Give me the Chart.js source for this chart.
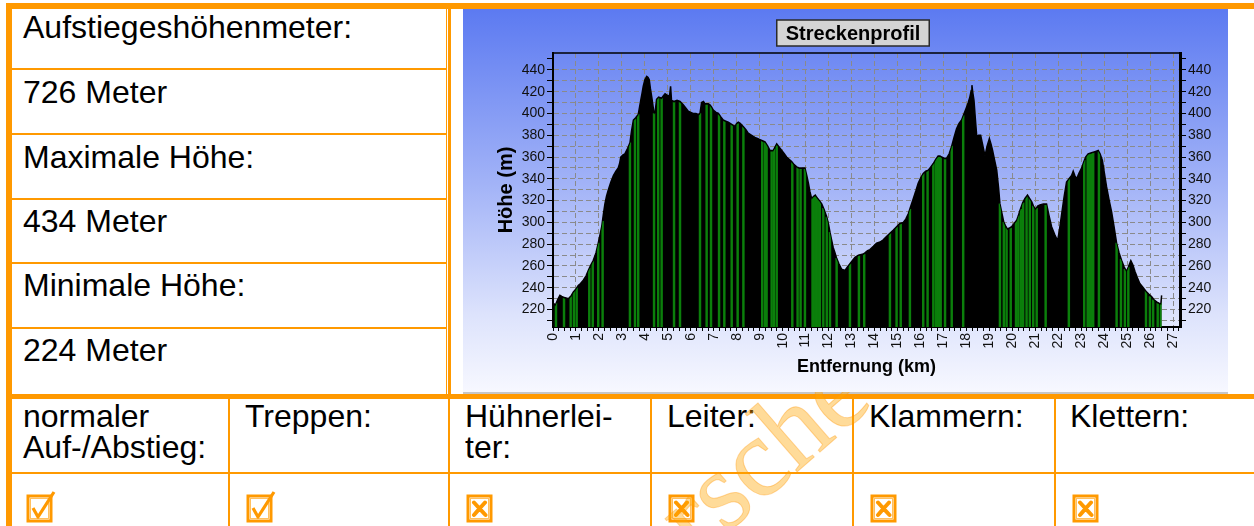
<!DOCTYPE html>
<html lang="de">
<head>
<meta charset="utf-8">
<script src="https://cdn.jsdelivr.net/npm/chart.js@4.4.1/dist/chart.umd.min.js"></script>
<style>
html,body{margin:0;padding:0;background:#fff;}
body{width:1254px;height:526px;overflow:hidden;position:relative;font-family:"Liberation Sans",Arial,sans-serif;}
.o{position:absolute;background:#ff9900;}
.t{position:absolute;font-size:32px;line-height:31px;color:#000;white-space:nowrap;}
svg.ic{position:absolute;}
#wm{position:absolute;left:0;top:0;z-index:1;}
#cw{position:absolute;left:463px;top:9px;width:765px;height:383px;z-index:2;}
</style>
</head>
<body>
<!-- table lines -->
<div class="o" style="left:6px;top:3px;width:1248px;height:6px"></div>
<div class="o" style="left:6px;top:3px;width:6px;height:523px"></div>
<div class="o" style="left:446px;top:9px;width:1px;height:385px"></div>
<div class="o" style="left:448px;top:3px;width:3px;height:391px"></div>
<div class="o" style="left:12px;top:68px;width:434px;height:2px"></div>
<div class="o" style="left:12px;top:133px;width:434px;height:2px"></div>
<div class="o" style="left:12px;top:198px;width:434px;height:2px"></div>
<div class="o" style="left:12px;top:262px;width:434px;height:2px"></div>
<div class="o" style="left:12px;top:327px;width:434px;height:2px"></div>
<div style="position:absolute;left:463px;top:392px;width:765px;height:2px;background:#c6c6c6"></div>
<div class="o" style="left:6px;top:394px;width:1248px;height:5px"></div>
<div class="o" style="left:228px;top:399px;width:2px;height:127px"></div>
<div class="o" style="left:448px;top:399px;width:2px;height:127px"></div>
<div class="o" style="left:650px;top:399px;width:2px;height:127px"></div>
<div class="o" style="left:852px;top:399px;width:2px;height:127px"></div>
<div class="o" style="left:1054px;top:399px;width:2px;height:127px"></div>
<div class="o" style="left:12px;top:472px;width:1242px;height:2px"></div>

<!-- left column texts -->
<div class="t" style="left:23px;top:12px">Aufstiegeshöhenmeter:</div>
<div class="t" style="left:23px;top:77px">726 Meter</div>
<div class="t" style="left:23px;top:142px">Maximale Höhe:</div>
<div class="t" style="left:23px;top:206px">434 Meter</div>
<div class="t" style="left:23px;top:270px">Minimale Höhe:</div>
<div class="t" style="left:23px;top:335px">224 Meter</div>

<!-- bottom rows -->
<div class="t" style="left:23px;top:401px">normaler<br>Auf-/Abstieg:</div>
<div class="t" style="left:245px;top:401px">Treppen:</div>
<div class="t" style="left:465px;top:401px">Hühnerlei-<br>ter:</div>
<div class="t" style="left:667px;top:401px">Leiter:</div>
<div class="t" style="left:869px;top:401px">Klammern:</div>
<div class="t" style="left:1070px;top:401px">Klettern:</div>

<svg class="ic" style="left:25px;top:490px" width="32" height="34" viewBox="0 0 32 34"><rect x="3" y="6" width="23" height="25" fill="none" stroke="#ff9900" stroke-width="3"/><rect x="5.5" y="8.5" width="18" height="20" fill="none" stroke="#ffc060" stroke-width="1"/><path d="M8 18 L13 27 L29 2" fill="none" stroke="#ff9900" stroke-width="3.2" stroke-linejoin="round"/></svg>
<svg class="ic" style="left:245px;top:490px" width="32" height="34" viewBox="0 0 32 34"><rect x="3" y="6" width="23" height="25" fill="none" stroke="#ff9900" stroke-width="3"/><rect x="5.5" y="8.5" width="18" height="20" fill="none" stroke="#ffc060" stroke-width="1"/><path d="M8 18 L13 27 L29 2" fill="none" stroke="#ff9900" stroke-width="3.2" stroke-linejoin="round"/></svg>
<svg class="ic" style="left:465px;top:490px" width="32" height="34" viewBox="0 0 32 34"><rect x="3" y="6" width="23" height="25" fill="none" stroke="#ff9900" stroke-width="3"/><rect x="5.5" y="8.5" width="18" height="20" fill="none" stroke="#ffc060" stroke-width="1"/><path d="M9 12.5 Q14 18 20.5 25 M20 12.5 Q15 18 9 25" fill="none" stroke="#ff9900" stroke-width="4" stroke-linecap="round"/></svg>
<svg class="ic" style="left:667px;top:490px" width="32" height="34" viewBox="0 0 32 34"><rect x="3" y="6" width="23" height="25" fill="none" stroke="#ff9900" stroke-width="3"/><rect x="5.5" y="8.5" width="18" height="20" fill="none" stroke="#ffc060" stroke-width="1"/><path d="M9 12.5 Q14 18 20.5 25 M20 12.5 Q15 18 9 25" fill="none" stroke="#ff9900" stroke-width="4" stroke-linecap="round"/></svg>
<svg class="ic" style="left:869px;top:490px" width="32" height="34" viewBox="0 0 32 34"><rect x="3" y="6" width="23" height="25" fill="none" stroke="#ff9900" stroke-width="3"/><rect x="5.5" y="8.5" width="18" height="20" fill="none" stroke="#ffc060" stroke-width="1"/><path d="M9 12.5 Q14 18 20.5 25 M20 12.5 Q15 18 9 25" fill="none" stroke="#ff9900" stroke-width="4" stroke-linecap="round"/></svg>
<svg class="ic" style="left:1071px;top:490px" width="32" height="34" viewBox="0 0 32 34"><rect x="3" y="6" width="23" height="25" fill="none" stroke="#ff9900" stroke-width="3"/><rect x="5.5" y="8.5" width="18" height="20" fill="none" stroke="#ffc060" stroke-width="1"/><path d="M9 12.5 Q14 18 20.5 25 M20 12.5 Q15 18 9 25" fill="none" stroke="#ff9900" stroke-width="4" stroke-linecap="round"/></svg>

<!-- watermark -->
<svg id="wm" width="1254" height="526" viewBox="0 0 1254 526">
<text x="697" y="559" transform="rotate(-41 697 559)" font-family="Liberation Serif, serif" font-size="112" fill="rgba(255,165,0,0.40)" stroke="rgba(255,150,0,0.35)" stroke-width="1">rsche</text>
</svg>

<div id="cw"><canvas id="c" width="765" height="383"></canvas></div>

<script>
// ---------- data ----------
const chartTitle = 'Streckenprofil';
const xTitle = 'Entfernung (km)';
const yTitle = 'Höhe (m)';

const profileKm = [
  0,0.04,0.10,0.20,0.30,0.38,0.50,0.67,0.80,0.88,
  1.00,1.10,1.20,1.32,1.44,1.54,1.65,1.75,1.87,1.97,
  2.05,2.12,2.19,2.26,2.33,2.41,2.52,2.63,2.74,2.84,
  2.90,2.95,3.05,3.13,3.25,3.35,3.42,3.50,3.60,3.71,
  3.77,3.82,3.88,3.93,4.00,4.08,4.14,4.19,4.24,4.30,
  4.36,4.40,4.45,4.51,4.60,4.73,4.80,4.88,4.95,5.02,
  5.08,5.12,5.16,5.27,5.40,5.53,5.67,5.78,5.89,6.00,
  6.10,6.22,6.33,6.40,6.47,6.55,6.62,6.76,6.83,6.90,
  6.98,7.10,7.20,7.30,7.41,7.52,7.63,7.78,7.92,8.00,
  8.07,8.15,8.28,8.40,8.50,8.65,8.79,8.90,9.01,9.12,
  9.23,9.35,9.45,9.59,9.66,9.74,9.85,9.96,10.07,10.17,
  10.28,10.39,10.50,10.61,10.72,10.83,10.97,11.05,11.12,11.19,
  11.26,11.35,11.42,11.48,11.60,11.70,11.80,11.92,12.00,12.06,
  12.13,12.20,12.28,12.35,12.45,12.57,12.71,12.82,12.93,13.04,
  13.15,13.30,13.51,13.58,13.70,13.80,13.95,14.09,14.24,14.38,
  14.52,14.67,14.82,14.96,15.10,15.25,15.36,15.47,15.58,15.69,
  15.80,15.90,16.01,16.12,16.23,16.34,16.45,16.56,16.67,16.77,
  16.85,16.92,17.03,17.14,17.25,17.36,17.46,17.57,17.68,17.79,
  17.90,18.01,18.08,18.15,18.21,18.24,18.28,18.33,18.39,18.45,
  18.53,18.62,18.70,18.81,18.90,19.00,19.07,19.14,19.23,19.32,
  19.40,19.46,19.55,19.63,19.70,19.78,19.88,19.97,20.08,20.19,
  20.26,20.33,20.45,20.55,20.66,20.75,20.84,20.92,21.01,21.10,
  21.20,21.35,21.49,21.60,21.71,21.84,21.97,22.05,22.15,22.25,
  22.36,22.47,22.58,22.65,22.72,22.80,22.90,23.02,23.10,23.19,
  23.30,23.45,23.60,23.74,23.82,23.92,24.01,24.10,24.21,24.32,
  24.43,24.54,24.65,24.76,24.87,24.97,25.05,25.16,25.25,25.34,
  25.45,25.55,25.70,25.85,25.95,26.06,26.17,26.28,26.38,26.43,
  26.47,26.50
];
const profileElev = [
  226,225,224,229,233,232,231,230,233,236,
  239,242,244,247,251,256,261,265,272,281,
  289,296,307,317,324,330,337,343,347,350,
  354,360,362,363,368,373,384,394,396,399,
  406,412,419,425,431,434,433,431,423,415,
  406,400,402,413,415,414,416,418,417,416,
  417,425,412,411,412,411,408,405,402,401,
  400,400,399,400,410,411,409,409,408,406,
  403,401,400,397,394,393,392,390,388,391,
  392,391,388,385,382,380,378,377,376,375,
  374,370,366,366,369,372,369,366,363,360,
  358,356,353,351,350,350,350,343,336,328,
  322,324,325,323,320,317,312,305,298,291,
  284,277,272,267,262,257,256,259,262,265,
  268,270,271,272,274,275,278,281,282,284,
  287,290,293,296,299,300,303,308,315,322,
  329,336,341,345,347,348,351,354,358,361,
  361,360,359,359,363,370,378,386,391,394,
  400,406,410,415,421,426,419,412,395,379,
  380,380,372,361,370,377,372,366,357,348,
  332,317,308,300,297,294,295,296,299,302,
  306,311,318,322,325,322,319,315,312,315,
  316,317,317,306,296,289,283,293,308,323,
  337,340,343,347,343,340,345,350,355,360,
  363,364,365,366,363,357,345,333,321,310,
  296,281,272,265,259,255,259,265,261,255,
  249,244,240,236,234,232,229,227,226,225,
  226,233
];
// green waypoint stripes: position (km) and height (m)
const markerKm = [
  0.13,0.48,0.77,0.91,1.03,1.58,1.73,1.97,2.16,3.35,
  3.57,3.71,4.40,4.58,4.73,5.27,5.53,6.40,6.69,6.88,
  7.23,7.46,7.78,8.04,8.29,9.11,9.23,9.30,9.52,9.62,
  9.74,10.42,10.65,10.78,10.97,11.30,11.36,11.42,11.48,11.55,
  11.62,11.77,11.92,12.06,12.35,12.93,13.32,13.55,14.67,14.96,
  15.14,15.54,16.12,16.31,16.56,16.67,16.72,16.77,16.83,16.88,
  17.07,17.36,17.86,19.46,19.63,19.75,19.93,20.16,20.26,20.37,
  20.47,20.62,20.76,20.91,21.06,21.45,22.46,23.13,23.28,23.34,
  23.40,23.46,23.52,23.77,24.54,24.73,24.90,25.05,25.82,25.99,
  26.13,26.33,26.47
];
const markerElev = [
  226,231,232,237,240,258,264,281,301,373,
  395,399,400,415,414,411,411,400,409,408,
  399,394,390,391,388,375,374,372,366,367,
  372,355,351,350,350,323,324,325,323,321,
  320,313,305,291,267,262,270,271,290,296,
  299,312,345,348,354,358,359,361,361,360,
  359,370,398,317,300,295,295,301,306,312,
  318,324,322,315,313,317,340,357,362,363,
  364,364,364,366,281,266,257,259,237,232,
  229,226,226
];
const yMin = 204, yMax = 455.5, xMin = 0, xMax = 27.3;

// ---------- chart ----------
const FONT = '"Liberation Sans", Arial, sans-serif';
const profilePts = profileKm.map((k, i) => ({x: k, y: profileElev[i]}));
const markerPts = markerKm.map((k, i) => ({x: k, y: markerElev[i]}));

const bgPlugin = {
  id: 'bg',
  beforeDraw(chart) {
    const {ctx, width, height} = chart;
    const g = ctx.createLinearGradient(0, 0, 0, height);
    g.addColorStop(0, '#5c7af1');
    g.addColorStop(0.45, '#a1b2f7');
    g.addColorStop(0.8, '#dde3fc');
    g.addColorStop(1, '#f7f8ff');
    ctx.save();
    ctx.fillStyle = g;
    ctx.fillRect(0, 0, width, height);
    ctx.font = 'bold 20px ' + FONT;
    const tw = ctx.measureText(chartTitle).width;
    const cx = 390, bw = tw + 18, bh = 26, by = 11;
    ctx.fillStyle = '#d4d4d4';
    ctx.fillRect(cx - bw / 2, by, bw, bh);
    ctx.strokeStyle = '#2a2a2a';
    ctx.lineWidth = 1.5;
    ctx.strokeRect(cx - bw / 2, by, bw, bh);
    ctx.fillStyle = '#000';
    ctx.textAlign = 'center';
    ctx.textBaseline = 'middle';
    ctx.fillText(chartTitle, cx, by + bh / 2 + 1);
    ctx.restore();
  },
  afterDatasetsDraw(chart) {
    const {ctx, chartArea: a} = chart;
    ctx.save();
    ctx.strokeStyle = '#000';
    ctx.lineWidth = 1.5;
    ctx.beginPath();
    ctx.moveTo(a.left, a.top);
    ctx.lineTo(a.right, a.top);
    ctx.stroke();
    ctx.restore();
  }
};
const clipBars = {
  id: 'clipBars',
  beforeDatasetDraw(chart, args) {
    if (args.index !== 1) return;
    const pts = chart.getDatasetMeta(0).data;
    const ctx = chart.ctx, bottom = chart.chartArea.bottom;
    ctx.save();
    ctx.beginPath();
    ctx.moveTo(pts[0].x, bottom);
    pts.forEach(p => ctx.lineTo(p.x, p.y + 1));
    ctx.lineTo(pts[pts.length - 1].x, bottom);
    ctx.closePath();
    ctx.clip();
  },
  afterDatasetDraw(chart, args) {
    if (args.index === 1) chart.ctx.restore();
  }
};

const gridGray = '#8a8a8a';
const tickFont = {family: FONT, size: 14};
const yTickCb = v => (v % 20 === 0 && v <= 440) ? String(v) : '';

new Chart(document.getElementById('c'), {
  type: 'line',
  data: {
    datasets: [
      {type: 'line', data: profilePts, borderColor: '#000', borderWidth: 1.5,
       backgroundColor: '#000', fill: 'start', pointRadius: 0, tension: 0, order: 2},
      {type: 'bar', data: markerPts, backgroundColor: '#0b7f0b', borderWidth: 0,
       barThickness: 1.8, grouped: false, order: 1}
    ]
  },
  options: {
    responsive: false,
    animation: false,
    devicePixelRatio: 1,
    layout: {padding: {left: 31, right: 0, top: 44, bottom: 14}},
    plugins: {legend: {display: false}, tooltip: {enabled: false}, title: {display: false}},
    scales: {
      x: {
        type: 'linear', min: xMin, max: xMax, offset: false,
        grid: {
          offset: false,
          color: c => (c.tick && Number.isInteger(c.tick.value) && c.tick.value > 0) ? gridGray : 'rgba(0,0,0,0)',
          tickColor: '#000', tickLength: 4, lineWidth: 1
        },
        border: {display: true, color: '#000', width: 2, dash: [5, 3]},
        ticks: {
          stepSize: 0.25, autoSkip: false, includeBounds: false,
          minRotation: 90, maxRotation: 90, padding: 2, color: '#111', font: tickFont,
          callback: v => Number.isInteger(v) ? String(v) : ''
        },
        title: {display: true, text: xTitle, color: '#000', padding: 0,
                font: {family: FONT, size: 18, weight: 'bold'}},
        afterFit: s => { s.height = 51; }
      },
      y: {
        type: 'linear', position: 'left', min: yMin, max: yMax,
        grid: {
          color: c => (c.tick && c.tick.value <= 440) ? gridGray : 'rgba(0,0,0,0)',
          tickColor: '#000', tickLength: 6, lineWidth: 1
        },
        border: {display: true, color: '#000', width: 2, dash: [5, 3]},
        ticks: {stepSize: 10, includeBounds: false, autoSkip: false, padding: 2,
                color: '#111', font: tickFont, callback: yTickCb},
        title: {display: true, text: yTitle, color: '#000', padding: 0,
                font: {family: FONT, size: 20, weight: 'bold'}},
        afterFit: s => { s.width = 59; }
      },
      y2: {
        type: 'linear', position: 'right', min: yMin, max: yMax,
        grid: {drawOnChartArea: false, tickColor: '#000', tickLength: 6},
        border: {display: true, color: '#000', width: 3},
        ticks: {stepSize: 10, includeBounds: false, autoSkip: false, padding: 2,
                color: '#111', font: tickFont, callback: yTickCb},
        afterFit: s => { s.width = 48; }
      }
    }
  },
  plugins: [bgPlugin, clipBars]
});
</script>
</body>
</html>
